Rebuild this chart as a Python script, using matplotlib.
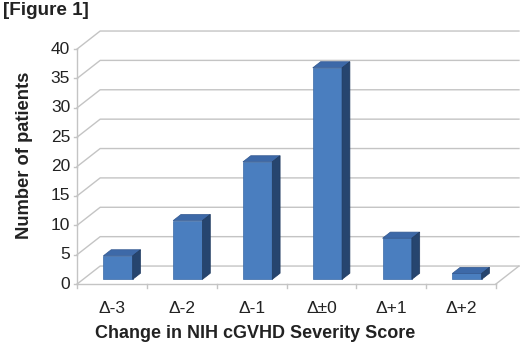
import matplotlib.pyplot as plt
from matplotlib.patches import Polygon
import numpy as np

plt.rcParams['font.family'] = ['Liberation Sans', 'DejaVu Sans']

categories = ['\u0394-3', '\u0394-2', '\u0394-1', '\u0394\u00b10', '\u0394+1', '\u0394+2']
patients = [4, 10, 20, 36, 7, 1]
y_ticks = [0, 5, 10, 15, 20, 25, 30, 35, 40]

# pseudo 3d geometry (data units)
depth_x = 0.33
depth_y = 3.06
bar_front = 0.26
bar_back = 0.60
half_w = 0.21

grid_col = '#c4c4c4'
face_col = '#4a7ebf'
top_col = '#3d69a8'
side_col = '#26456f'

fig = plt.figure(figsize=(5.2, 3.46), dpi=100)
ax = fig.add_axes([0, 0, 1, 1])
ax.set_xlim(-1.605, 5.845)
ax.set_ylim(-10.55, 48.34)
ax.axis('off')

x0, x1 = -0.5, len(categories) - 0.5

# walls and gridlines
for v in y_ticks:
    ax.plot([x0, x0 + depth_x, x1 + depth_x], [v, v + depth_y, v + depth_y],
            color=grid_col, lw=1.0, zorder=1)
    ax.plot([x0 - 0.04, x0], [v, v], color=grid_col, lw=1.0, zorder=1)
    ax.text(x0 - 0.1, v, str(v), ha='right', va='center', fontsize=12.5, color='#222222')
ax.plot([x1, x1 + depth_x], [0, depth_y], color=grid_col, lw=1.0, zorder=1)
ax.plot([x0, x0], [0, y_ticks[-1]], color=grid_col, lw=1.0, zorder=1)
ax.plot([x0, x1], [0, 0], color=grid_col, lw=1.0, zorder=1)
for b in np.arange(x0, x1 + 0.01, 1.0):
    ax.plot([b, b], [0, -0.6], color=grid_col, lw=1.0, zorder=1)

# bars
for i, v in enumerate(patients):
    ox = bar_front * depth_x
    oy = bar_front * depth_y
    bx = (bar_back - bar_front) * depth_x
    by = (bar_back - bar_front) * depth_y
    l = i - half_w + ox
    r = i + half_w + ox
    ax.add_patch(Polygon([[l, oy], [r, oy], [r, oy + v], [l, oy + v]],
                         closed=True, facecolor=face_col, edgecolor='#3b6aa6', lw=0.5, zorder=3))
    ax.add_patch(Polygon([[l, oy + v], [r, oy + v], [r + bx, oy + v + by], [l + bx, oy + v + by]],
                         closed=True, facecolor=top_col, edgecolor='#31578f', lw=0.5, zorder=3))
    ax.add_patch(Polygon([[r, oy], [r + bx, oy + by], [r + bx, oy + v + by], [r, oy + v]],
                         closed=True, facecolor=side_col, edgecolor='#1f3a60', lw=0.5, zorder=3))
    ax.text(i, -4.2, categories[i], ha='center', va='center', fontsize=12.5, color='#222222')

ax.text(x0 + 0.5 * (x1 - x0) - 0.45, -8.4, 'Change in NIH cGVHD Severity Score',
        ha='center', va='center', fontsize=13, fontweight='bold', color='#222222')
fig.text(0.047, 0.55, 'Number of patients', rotation=90, ha='center', va='center',
         fontsize=13.2, fontweight='bold', color='#222222')
fig.text(0.005, 0.97, '[Figure 1]', ha='left', va='center', fontsize=13.6,
         fontweight='bold', color='#222222')

fig.savefig('out.png', dpi=100)
